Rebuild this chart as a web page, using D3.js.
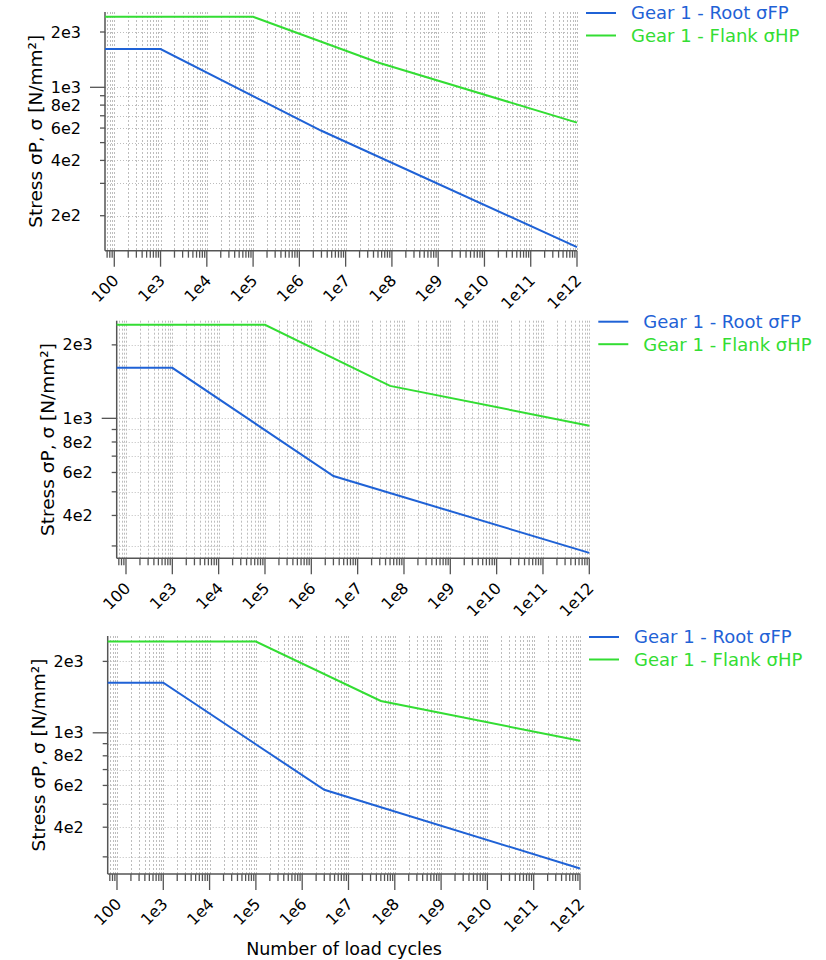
<!DOCTYPE html>
<html>
<head>
<meta charset="UTF-8" />
<title>Stress vs load cycles</title>
<script src="https://d3js.org/d3.v7.min.js"></script>
<style>
  body { margin: 0; background: #fff; }
  svg text { font-family: "DejaVu Sans", sans-serif; }
  .grid line { stroke: #bdbdbd; stroke-width: 1; }
  .axis line, .axis path { stroke: #555; }
</style>
</head>
<body>
<svg id="chart" width="826" height="960"></svg>
<script>
// series names + colours
var seriesNames = ["Gear 1 - Root \u03C3FP", "Gear 1 - Flank \u03C3HP"];
var seriesColors = ["#1f62d6", "#33dd33"];

// x tick labels (decades 1e2 .. 1e12)
var xTickValues = [1e2, 1e3, 1e4, 1e5, 1e6, 1e7, 1e8, 1e9, 1e10, 1e11, 1e12];
var xTickLabels = ["100", "1e3", "1e4", "1e5", "1e6", "1e7", "1e8", "1e9", "1e10", "1e11", "1e12"];
// labelled y ticks
var yTickValues = [200, 400, 600, 800, 1000, 2000];
var yTickLabels = ["2e2", "4e2", "6e2", "8e2", "1e3", "2e3"];

// panel 1
var root1Cycles = [63, 1e3, 3e6, 1e12];
var root1Stress = [1615, 1615, 580, 135];
var flank1Cycles = [63, 1e5, 5e7, 1e12];
var flank1Stress = [2420, 2420, 1365, 642];
// panel 2
var root2Cycles = [63, 1e3, 3e6, 1e12];
var root2Stress = [1610, 1610, 580, 281];
var flank2Cycles = [63, 1e5, 5e7, 1e12];
var flank2Stress = [2415, 2415, 1358, 933];
// panel 3
var root3Cycles = [63, 1e3, 3e6, 1e12];
var root3Stress = [1625, 1625, 575, 268];
var flank3Cycles = [63, 1e5, 5e7, 1e12];
var flank3Stress = [2425, 2425, 1362, 925];

var xDomain = [63, 1e12];
var yDomains = [[129, 2570], [267, 2512], [254, 2559]];

var svg = d3.select("#chart");

// minor tick values k*10^d inside a domain
function logTicks(dom) {
  var out = [];
  for (var d = 0; d <= 12; d++) {
    for (var k = 1; k <= 9; k++) {
      var v = k * Math.pow(10, d);
      if (v >= dom[0] && v <= dom[1]) out.push(v);
    }
  }
  return out;
}

function drawPanel(p) {
  var g = svg.append("g");
  var x = d3.scaleLog().domain(xDomain).range([p.left, p.left + p.w]);
  var y = d3.scaleLog().domain(p.yDomain).range([p.top + p.h, p.top]);
  var xt = logTicks(xDomain), yt = logTicks(p.yDomain);

  // grid
  var grid = g.append("g").attr("class", "grid");
  grid.selectAll("line.v").data(xt).enter().append("line")
    .attr("x1", function (d) { return Math.round(x(d)) + 0.5; })
    .attr("x2", function (d) { return Math.round(x(d)) + 0.5; })
    .attr("y1", p.top).attr("y2", p.top + p.h)
    .attr("stroke-dasharray", "2,2");
  grid.selectAll("line.h").data(yt).enter().append("line")
    .attr("y1", function (d) { return Math.round(y(d)) + 0.5; })
    .attr("y2", function (d) { return Math.round(y(d)) + 0.5; })
    .attr("x1", p.left).attr("x2", p.left + p.w)
    .attr("stroke-dasharray", "1,2");

  // axes
  var ax = g.append("g").attr("class", "axis");
  ax.append("line").attr("x1", p.left).attr("x2", p.left + p.w)
    .attr("y1", p.top + p.h).attr("y2", p.top + p.h).attr("stroke-width", 1.5);
  ax.append("line").attr("x1", p.left).attr("x2", p.left)
    .attr("y1", p.top).attr("y2", p.top + p.h).attr("stroke-width", 1.5);
  ax.selectAll("line.xt").data(xt).enter().append("line")
    .attr("x1", function (d) { return x(d); }).attr("x2", function (d) { return x(d); })
    .attr("y1", p.top + p.h)
    .attr("y2", function (d) { return p.top + p.h + (xTickValues.indexOf(d) >= 0 ? 16 : 7); })
    .attr("stroke-width", 1.3);
  ax.selectAll("line.yt").data(yt).enter().append("line")
    .attr("y1", function (d) { return y(d); }).attr("y2", function (d) { return y(d); })
    .attr("x1", p.left)
    .attr("x2", function (d) { return p.left - (d === 1000 ? 15 : 5); })
    .attr("stroke-width", 1.3);

  // tick labels
  g.selectAll("text.xl").data(xTickValues).enter().append("text")
    .attr("transform", function (d) {
      return "translate(" + (x(d) + 1.5) + "," + (p.top + p.h + 27) + ") rotate(-45)";
    })
    .attr("text-anchor", "end").attr("dy", "0.35em")
    .attr("font-size", 16).attr("fill", "#000")
    .text(function (d, i) { return xTickLabels[i]; });
  var yl = yTickValues.filter(function (d) { return d >= p.yDomain[0] && d <= p.yDomain[1]; });
  g.selectAll("text.yl").data(yl).enter().append("text")
    .attr("x", p.left - 24).attr("y", function (d) { return y(d); })
    .attr("dy", "0.35em").attr("text-anchor", "end")
    .attr("font-size", 16).attr("fill", "#000")
    .text(function (d) { return yTickLabels[yTickValues.indexOf(d)]; });

  // y title
  g.append("text")
    .attr("transform", "translate(" + (p.left - 63) + "," + (p.top + p.h / 2) + ") rotate(-90)")
    .attr("text-anchor", "middle").attr("font-size", 18.5).attr("fill", "#000")
    .text("Stress \u03C3P, \u03C3 [N/mm\u00B2]");

  // series
  var line = d3.line().x(function (d) { return x(d[0]); }).y(function (d) { return y(d[1]); });
  p.series.forEach(function (s, i) {
    g.append("path").datum(d3.zip(s[0], s[1]))
      .attr("d", line).attr("fill", "none")
      .attr("stroke", seriesColors[i]).attr("stroke-width", 2);
  });

  // legend
  var lx = p.left + p.w;
  seriesNames.forEach(function (name, i) {
    var ly = p.top + 1 + i * 22.5;
    g.append("line").attr("x1", lx + 9).attr("x2", lx + 39)
      .attr("y1", ly).attr("y2", ly)
      .attr("stroke", seriesColors[i]).attr("stroke-width", 2);
    g.append("text").attr("x", lx + 54).attr("y", ly).attr("dy", "0.35em")
      .attr("font-size", 18).attr("fill", seriesColors[i]).text(name);
  });
  return { x: x, y: y };
}

drawPanel({ left: 105, top: 12, w: 472, h: 238.7, yDomain: yDomains[0],
  series: [[root1Cycles, root1Stress], [flank1Cycles, flank1Stress]] });
drawPanel({ left: 116.7, top: 320.7, w: 472.6, h: 237.6, yDomain: yDomains[1],
  series: [[root2Cycles, root2Stress], [flank2Cycles, flank2Stress]] });
drawPanel({ left: 107.7, top: 636, w: 472.3, h: 238, yDomain: yDomains[2],
  series: [[root3Cycles, root3Stress], [flank3Cycles, flank3Stress]] });

svg.append("text")
  .attr("x", 344).attr("y", 955)
  .attr("text-anchor", "middle").attr("font-size", 17.5).attr("fill", "#000")
  .text("Number of load cycles");
</script>
</body>
</html>
